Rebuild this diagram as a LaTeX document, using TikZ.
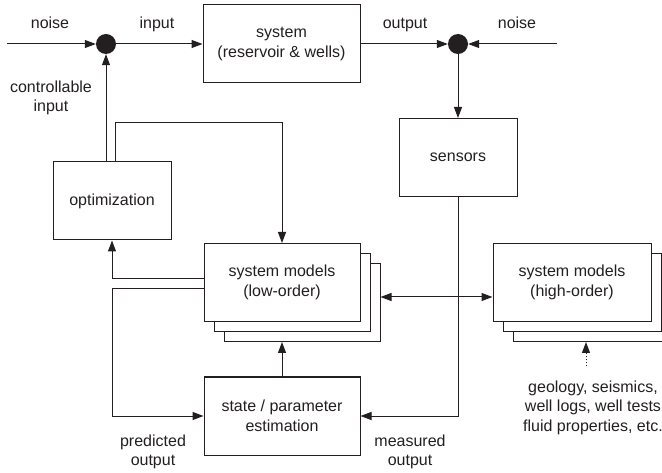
\documentclass[tikz,border=0pt]{standalone}
\usepackage{fontspec}
\setmainfont{Liberation Sans}
\usetikzlibrary{arrows.meta,calc}
\definecolor{ink}{RGB}{35,31,32}
\begin{document}
\begin{tikzpicture}[x=1pt,y=-1pt,
  txt/.style={font=\fontsize{16}{19.5}\selectfont, text=ink},
  box/.style={txt, draw=ink, fill=white, line width=1pt, minimum width=157pt, minimum height=78pt, inner sep=0pt, align=center},
  sbox/.style={box, minimum width=118pt},
  lbl/.style={txt, align=center, inner sep=0pt},
  dot/.style={circle, fill=ink, minimum size=20pt, inner sep=0pt},
  tip/.tip={Triangle[length=11pt,width=8pt]},
  arr/.style={draw=ink, line width=1pt, -tip},
  darr/.style={draw=ink, line width=1pt, tip-tip}
]
\useasboundingbox (0,0) rectangle (662,473);
\clip (0,0) rectangle (662,473);

% nodes
\node[box, minimum width=157pt] (sys) at (281.5,44) {system\\(reservoir \& wells)};
\node[dot] (c1) at (106,44) {};
\node[dot] (c2) at (458,44) {};
\coordinate (nL) at (7,44);
\coordinate (nR) at (557,44);
\node[sbox] (opt) at (112,201) {optimization};
\node[sbox] (sens) at (458,157.5) {sensors};

\node[box, minimum width=156pt] (low3) at (302,302.5) {};
\node[box, minimum width=156pt] (low2) at (292,292.5) {};
\node[box, minimum width=156pt] (low) at (282,282.5) {system models\\(low-order)};

\node[box, minimum width=158pt] (hi3) at (592,302.5) {};
\node[box, minimum width=158pt] (hi2) at (582,292.5) {};
\node[box, minimum width=158pt] (hi) at (572,282.5) {system models\\(high-order)};

\node[box, minimum width=156pt] (est) at (282,416) {state / parameter\\estimation};

% labels
\node[lbl, anchor=base] (ln1) at (50,29) {noise};
\node[lbl, anchor=base] (lin) at (157,29) {input};
\node[lbl, anchor=base] (lout) at (405,29) {output};
\node[lbl, anchor=base] (ln2) at (517,29) {noise};
\node[lbl] (lci) at (51,98) {controllable\\input};
\node[lbl] (lpo) at (153,452) {predicted\\output};
\node[lbl] (lmo) at (410,452) {measured\\output};
\node[lbl, anchor=north] (geo) at (593,380.5) {geology, seismics,\\well logs, well tests\\fluid properties, etc.};
\coordinate (dS) at ($(geo.north)+(-7,-14)$);

% connectors
\draw[arr] (nL) -- (c1);
\draw[arr] (c1) -- (sys);
\draw[arr] (c1 |- opt.north) -- (c1);
\draw[arr] ([xshift=3pt]opt.north) -- ++(0,-39) -| (low.north);
\draw[arr] ([yshift=3.5pt]low.west) -| (opt.south);
\draw[arr] ([yshift=-6.5pt]low.west) -| (opt.south |- est.west) -- (est.west);
\draw[arr] (est.north) -- (est.north |- low3.south);
\draw[arr] (sys.east |- c2) -- (c2);
\draw[arr] (nR) -- (c2);
\draw[arr] (c2) -- (sens);
\draw[arr] (sens.south) |- (est.east);
\draw[darr] ([yshift=5.5pt]low3.east) -- ([yshift=5.5pt]low3.east -| hi.west);
\draw[arr, dotted] (dS) -- (dS |- hi3.south);
\end{tikzpicture}
\end{document}
